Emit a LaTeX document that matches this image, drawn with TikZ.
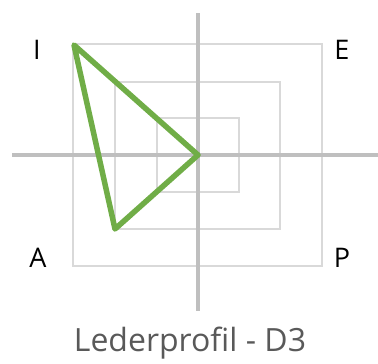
\documentclass[tikz,border=0pt]{standalone}
\usepackage{fontspec}
\setmainfont{Open Sans}
\usepackage{tikz}
\usetikzlibrary{positioning}
\definecolor{axisgray}{RGB}{191, 191, 191}
\definecolor{boxgray}{RGB}{217, 217, 217}
\definecolor{profilegreen}{RGB}{112, 173, 71}
\definecolor{titlegray}{RGB}{89, 89, 89}

\begin{document}
\begin{tikzpicture}[x=1pt, y=-1pt,
    every node/.style={font=\fontsize{27}{30}\selectfont},
    axis/.style={draw=axisgray, line width=3.8pt},
    ring/.style={draw=boxgray, line width=1.5pt},
    profile/.style={draw=profilegreen, line width=5.5pt, line join=round},
    corner/.style={inner sep=0pt, anchor=center}
]
\useasboundingbox (0,0) rectangle (378,364);
% nested squares
\draw[ring] (73,44) rectangle (322,266);
\draw[ring] (115,82) rectangle (280,229);
\draw[ring] (157,118) rectangle (239,192);
% axes
\coordinate (left) at (12,155);
\coordinate (right) at (378,155);
\coordinate (top) at (198,13);
\coordinate (bottom) at (198,311);
\draw[axis] (left) -- (right);
\draw[axis] (top) -- (bottom);
% profile
\coordinate (pi) at (74,45);
\coordinate (pc) at (198,155);
\coordinate (pa) at (115,229);
\draw[profile] (pi) -- (pc) -- (pa) -- cycle;
% quadrant labels
\node[corner] (labI) at (37,50) {I};
\node[corner] (labE) at (342,50) {E};
\node[corner] (labA) at (38,258) {A};
\node[corner] (labP) at (342,258) {P};
\node[corner, text=titlegray, font=\fontsize{32}{36}\selectfont] (title) at (190,343) {Lederprofil - D3};
\end{tikzpicture}
\end{document}
